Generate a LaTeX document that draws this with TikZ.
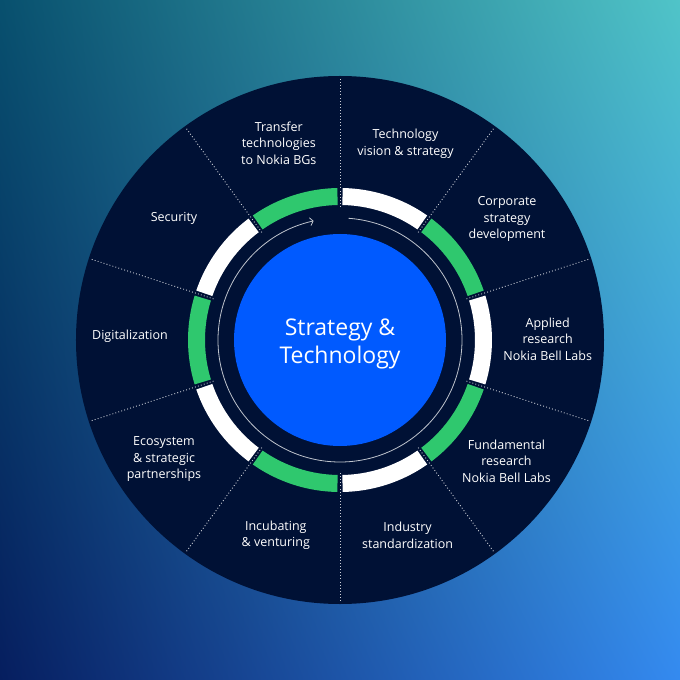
\documentclass[tikz,border=0pt]{standalone}
\usepackage{fontspec}
\setmainfont{Open Sans}
\usetikzlibrary{arrows.meta,shadings}
\definecolor{navy}{HTML}{001135}
\definecolor{nblue}{HTML}{005AFF}
\definecolor{ngreen}{HTML}{2FC86E}
\definecolor{bgTL}{RGB}{8,80,110}
\definecolor{bgTR}{RGB}{80,196,200}
\definecolor{bgBL}{RGB}{6,30,95}
\definecolor{bgBR}{RGB}{52,138,240}
\begin{document}
\begin{tikzpicture}[x=1pt,y=1pt,
  lbl/.style={text=white, align=center, inner sep=0pt, font=\fontsize{12.5}{16.5}\selectfont},
  divider/.style={white!80!navy, line width=0.9pt, dash pattern=on 0.9pt off 2.2pt},
  cyclearrow/.style={white!75!navy, line width=0.8pt, -{Straight Barb[length=3pt,width=8pt]}}]
\useasboundingbox (-340,-340) rectangle (340,340);
\shade[upper left=bgTL, upper right=bgTR, lower left=bgBL, lower right=bgBR] (-340,-340) rectangle (340,340);
\node[circle, fill=navy, minimum size=528pt, inner sep=0pt] (disk) at (0,0) {};
% ring segments
\foreach \i/\c in {0/white,1/ngreen,2/white,3/ngreen,4/white,5/ngreen,6/white,7/ngreen,8/white,9/ngreen} {
  \pgfmathsetmacro\a{90-36*\i-1}
  \pgfmathsetmacro\b{90-36*\i-35}
  \fill[\c] (\a:135) arc[start angle=\a, end angle=\b, radius=135] -- (\b:152) arc[start angle=\b, end angle=\a, radius=152] -- cycle;
}
% dividers
\foreach \t in {90,54,18,-18,-54,-90,-126,-162,162,126} {
  \draw[divider] (\t:133) -- (\t:263);
}
% cycle arrow
\coordinate (arcstart) at (86:122);
\draw[cyclearrow] (arcstart) arc[start angle=86, end angle=-257.5, radius=122];
% core
\node[circle, fill=nblue, minimum size=212pt, inner sep=0pt] (core) at (0,0) {};
\node[text=white, align=center, font=\fontsize{23}{28}\selectfont] (title) at (0,-4) {Strategy \&\\Technology};
% labels
\node[lbl] (l1) at (-61.2,196.8) {Transfer\\technologies\\to Nokia BGs};
\node[lbl] (l2) at (65.5,196.3) {Technology\\vision \& strategy};
\node[lbl] (l3) at (167,121) {Corporate\\strategy\\development};
\node[lbl] (l4) at (207.7,1.1) {Applied\\research\\Nokia Bell Labs};
\node[lbl] (l5) at (166.5,-121) {Fundamental\\research\\Nokia Bell Labs};
\node[lbl] (l6) at (67.6,-195.3) {Industry\\standardization};
\node[lbl] (l7) at (-64.2,-195.3) {Incubating\\\& venturing};
\node[lbl] (l8) at (-176,-119.5) {Ecosystem\\\& strategic\\partnerships};
\node[lbl] (l9) at (-210,3.4) {Digitalization};
\node[lbl] (l10) at (-166,121.3) {Security};
\end{tikzpicture}
\end{document}
